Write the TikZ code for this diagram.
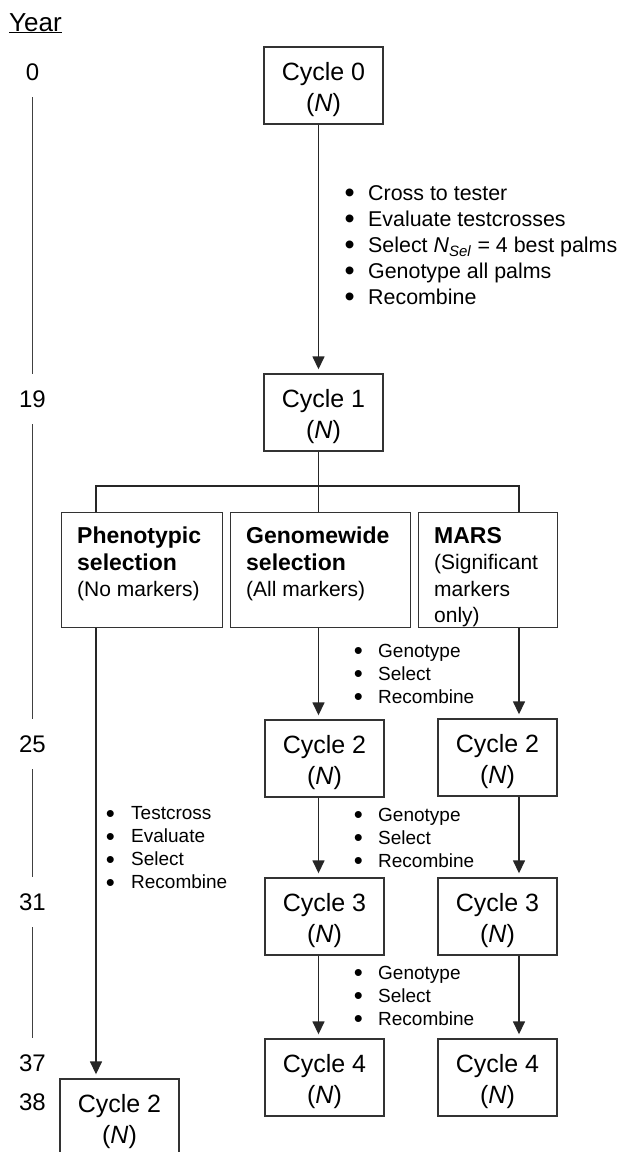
\documentclass[tikz,border=0pt]{standalone}
\usepackage{fontspec}
\setmainfont{Liberation Sans}
\usetikzlibrary{arrows.meta}
\tikzset{
  cyc/.style={draw=black!80, line width=1.4pt, minimum width=119pt, minimum height=77pt,
    inner sep=0pt, font=\fontsize{25}{31}\selectfont},
  hdbox/.style={draw=black!80, line width=1.4pt, minimum height=115pt, inner sep=0pt, anchor=north west},
  hdtext/.style={anchor=north west, inner sep=0pt, align=left, font=\fontsize{21}{26.5}\selectfont},
  conn/.style={draw=black!85, line width=1.5pt},
  arr/.style={conn, -{Triangle[length=13pt,width=12pt]}, shorten >=4pt},
  yr/.style={font=\fontsize{24}{28}\selectfont, minimum height=50pt, inner sep=0pt},
  yline/.style={draw=black!75, line width=1.4pt},
  bigbul/.style={anchor=west, inner sep=0pt, align=left, font=\fontsize{21.4}{26}\selectfont},
  smallbul/.style={anchor=west, inner sep=0pt, align=left, font=\fontsize{19}{23}\selectfont},
}
% bullet item: enlarged dot in a box of fixed width, then the text
\newcommand\bitem[2]{\makebox[#1][l]{\raisebox{-0.12em}[0pt][0pt]{\scalebox{1.35}{•}}}#2}
\newcommand\hd[1]{{\fontsize{23}{26.5}\selectfont\bfseries #1}}
% two-line cycle label, set a little low inside its box
\newcommand\cyctext[1]{\raisebox{-4pt}[\height][\depth]{\begin{tabular}{@{}c@{}}Cycle #1\\(\textit{N})\end{tabular}}}

\begin{document}
\begin{tikzpicture}[x=1pt, y=-1pt]
  \path[fill=white] (0,0) rectangle (618,1152);
  \clip (0,0) rectangle (618,1152);

  % column positions of the vertical connectors
  \coordinate (colP) at (96,0);
  \coordinate (colG) at (318.5,0);
  \coordinate (colM) at (519,0);
  \coordinate (bar)  at (0,486);

  % time axis
  \node[anchor=base west, inner sep=0pt, font=\fontsize{26}{30}\selectfont] (yearhd) at (9,31) {\underline{Year}};
  \node[yr] (y0)  at (32.5,72)   {0};
  \node[yr] (y19) at (32.5,399)  {19};
  \node[yr] (y25) at (32.5,744)  {25};
  \node[yr] (y31) at (32.5,902)  {31};
  \node[yr] (y37) at (32.5,1063) {37};
  \node[yr] (y38) at (32.5,1102) {38};
  \draw[yline] (y0.south)  -- (y19.north);
  \draw[yline] (y19.south) -- (y25.north);
  \draw[yline] (y25.south) -- (y31.north);
  \draw[yline] (y31.south) -- (y37.north);

  % starting population
  \node[cyc] (c0) at (323.5,85.5)  {\cyctext{0}};
  \node[cyc] (c1) at (323.5,412.5) {\cyctext{1}};
  \draw[arr] (c0.south -| colG) -- (c1.north -| colG);
  \node[bigbul] (l0) at (344.3,245) {\bitem{23.7pt}{Cross to tester}\\
    \bitem{23.7pt}{Evaluate testcrosses}\\
    \bitem{23.7pt}{Select \textit{N}\textsubscript{\textit{Sel}} = 4 best palms}\\
    \bitem{23.7pt}{Genotype all palms}\\
    \bitem{23.7pt}{Recombine}};

  % three selection schemes
  \node[hdbox, minimum width=161pt] (phen) at (61,512) {};
  \node[hdbox, minimum width=180pt] (gen)  at (230,512) {};
  \node[hdbox, minimum width=139pt] (mars) at (418,512) {};
  \node[hdtext] (phent) at (77,527)  {\hd{Phenotypic}\\\hd{selection}\\(No markers)};
  \node[hdtext] (gent)  at (246,527) {\hd{Genomewide}\\\hd{selection}\\(All markers)};
  \node[hdtext] (marst) at (434,527) {\hd{MARS}\\(Significant\\markers\\only)};

  \draw[conn] (c1.south -| colG) -- (bar -| colG) -- (gen.north -| colG);
  \draw[conn] (phen.north -| colP) |- (bar -| colG) -| (mars.north -| colM);

  % genomewide selection column
  \node[cyc] (g2) at (324.5,758.5)  {\cyctext{2}};
  \node[cyc] (g3) at (324.5,916.5)  {\cyctext{3}};
  \node[cyc] (g4) at (324.5,1077.5) {\cyctext{4}};
  \draw[arr] (gen.south -| colG) -- (g2.north -| colG);
  \draw[arr] (g2.south -| colG) -- (g3.north -| colG);
  \draw[arr] (g3.south -| colG) -- (g4.north -| colG);

  % MARS column
  \node[cyc] (m2) at (497.5,757.5)  {\cyctext{2}};
  \node[cyc] (m3) at (497.5,916.5)  {\cyctext{3}};
  \node[cyc] (m4) at (497.5,1077.5) {\cyctext{4}};
  \draw[arr] (mars.south -| colM) -- (m2.north -| colM);
  \draw[arr] (m2.south -| colM) -- (m3.north -| colM);
  \draw[arr] (m3.south -| colM) -- (m4.north -| colM);

  % marker-based cycle steps
  \node[smallbul] (l1) at (353.7,674) {\bitem{24.3pt}{Genotype}\\\bitem{24.3pt}{Select}\\\bitem{24.3pt}{Recombine}};
  \node[smallbul] (l2) at (353.7,838) {\bitem{24.3pt}{Genotype}\\\bitem{24.3pt}{Select}\\\bitem{24.3pt}{Recombine}};
  \node[smallbul] (l3) at (353.7,996) {\bitem{24.3pt}{Genotype}\\\bitem{24.3pt}{Select}\\\bitem{24.3pt}{Recombine}};

  % phenotypic selection column
  \node[cyc] (p2) at (119.5,1117.5) {\cyctext{2}};
  \draw[arr] (phen.south -| colP) -- (p2.north -| colP);
  \node[smallbul] (lp) at (105.7,848) {\bitem{25.3pt}{Testcross}\\\bitem{25.3pt}{Evaluate}\\\bitem{25.3pt}{Select}\\\bitem{25.3pt}{Recombine}};
\end{tikzpicture}
\end{document}
